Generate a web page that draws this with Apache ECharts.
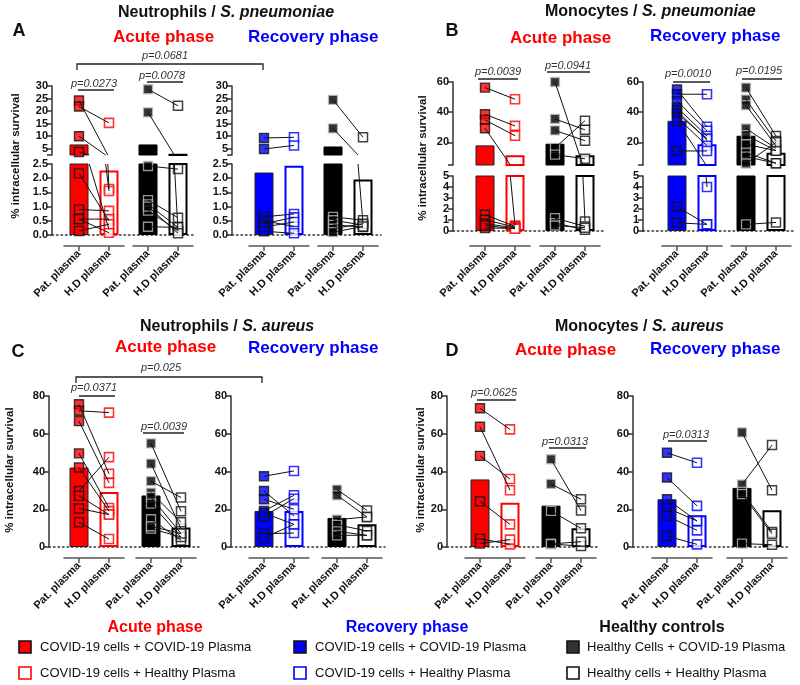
<!DOCTYPE html>
<html><head><meta charset="utf-8">
<script src="https://cdn.jsdelivr.net/npm/echarts@6/dist/echarts.min.js"></script>
<style>html,body{margin:0;padding:0;background:#fff}#c{width:800px;height:685px}</style>
</head><body><div id="c"></div><script>
// ---------- categories & tick labels ----------
const categories = ['Pat. plasma', 'H.D plasma'];
const aUpperTicks = [5, 10, 15, 20, 25, 30];
const aLowerTicks = [0, 0.5, 1.0, 1.5, 2.0, 2.5];
const bUpperTicks = [20, 40, 60];
const bLowerTicks = [0, 1, 2, 3, 4, 5];
const cdTicks = [0, 20, 40, 60, 80];

// ---------- A: Neutrophils / S. pneumoniae ----------
const aAcuteCovPat  = [24.2, 21.8, 10.0, 3.7, 2.17, 0.9, 0.56, 0.56, 0.14];
const aAcuteCovHD   = [1.62, 15.3, 1.55, 0.2, 0.5, 0.85, 0.56, 0.08, 0.38];
const aAcuteCovMean = [6.7, 2.27];
const aAcuteHcPat   = [28.7, 19.5, 2.43, 1.23, 1.08, 0.86, 0.29, 1.0];
const aAcuteHcHD    = [22.1, 0.15, 2.32, 0.61, 0.27, 0.15, 0.27, 0.06];
const aAcuteHcMean  = [6.7, 3.0];
const aRecCovPat    = [9.3, 4.9, 0.64, 0.5, 0.4, 0.28, 0.13];
const aRecCovHD     = [9.55, 6.3, 0.74, 0.3, 0.62, 0.46, 0.06];
const aRecCovMean   = [2.2, 2.44];
const aRecHcPat     = [24.5, 13.1, 0.64, 0.52, 0.36, 0.22, 0.1];
const aRecHcHD      = [9.55, 0.4, 0.52, 0.35, 0.28, 0.4, 0.3];
const aRecHcMean    = [5.9, 1.95];

// ---------- B: Monocytes / S. pneumoniae ----------
const bAcuteCovPat  = [56.3, 38.6, 34.9, 29.4, 1.48, 1.02, 0.66, 0.27, 0.5];
const bAcuteCovHD   = [48.6, 30.9, 24.4, 0.5, 0.42, 0.35, 0.3, 0.25, 0.2];
const bAcuteCovMean = [18.0, 11.5];
const bAcuteHcPat   = [60, 35.5, 27.9, 16.3, 11.9, 1.17, 0.72, 0.5];
const bAcuteHcHD    = [0.87, 28.3, 21.1, 34.4, 9.1, 0.42, 0.12, 0.3];
const bAcuteHcMean  = [19.1, 11.5];
const bRecCovPat    = [55, 51.9, 47.5, 43, 40.9, 39.1, 36.5, 34.3, 14.3, 2.2, 0.75];
const bRecCovHD     = [30.3, 51.9, 27.7, 24.2, 21.5, 22.5, 17.8, 4.0, 14.3, 0.6, 0.6];
const bRecCovMean   = [34.3, 18.7];
const bRecHcPat     = [56.3, 48.4, 44.6, 29.2, 24.8, 18.7, 13.2, 10.5, 6, 0.6];
const bRecHcHD      = [24.2, 20.9, 17.6, 16, 14.5, 14.5, 6.2, 6.2, 20, 0.78];
const bRecHcMean    = [24.4, 13.2];

// ---------- C: Neutrophils / S. aureus ----------
const cAcuteCovPat  = [75.6, 72.2, 66.7, 49.6, 42.1, 29.7, 27.1, 20.4, 13.1];
const cAcuteCovHD   = [38.8, 71.2, 34.0, 20.7, 19.0, 47.6, 17.2, 17.2, 4.2];
const cAcuteCovMean = [42.1, 29.2];
const cAcuteHcPat   = [54.9, 44.2, 34.9, 28.8, 26.5, 23, 14.7, 9.7, 11];
const cAcuteHcHD    = [18.9, 9.7, 26.2, 13.1, 7.1, 5.3, 3.5, 5.3, 7.1];
const cAcuteHcMean  = [27.3, 10.3];
const cRecCovPat    = [37.5, 29.7, 25.3, 19.1, 16.3, 18.0, 7.1, 4.9];
const cRecCovHD     = [40.3, 16.4, 20.0, 27.4, 25.6, 12.0, 7.4, 12.0];
const cRecCovMean   = [19.1, 19.1];
const cRecHcPat     = [30.4, 27.4, 14.5, 11.8, 8.3, 6.2];
const cRecHcHD      = [19.4, 15.9, 15.9, 8.5, 6.2, 6.2];
const cRecHcMean    = [15.4, 12.0];

// ---------- D: Monocytes / S. aureus ----------
const dAcuteCovPat  = [73.5, 63.7, 48.3, 24.2, 4.4, 1.8];
const dAcuteCovHD   = [62.3, 30.1, 36.0, 12.0, 1.4, 3.9];
const dAcuteCovMean = [35.8, 23.5];
const dAcuteHcPat   = [46.5, 33.4, 19.1, 1.6, 1.6];
const dAcuteHcHD    = [19.3, 25.3, 9.9, 0.5, 2.8];
const dAcuteHcMean  = [21.9, 9.9];
const dRecCovPat    = [49.9, 36.8, 25.3, 20.7, 16.5, 5.8];
const dRecCovHD     = [44.6, 21.8, 13.8, 13.8, 8.8, 1.4];
const dRecCovMean   = [25.3, 16.8];
const dRecHcPat     = [60.7, 33.1, 29.2, 28.0, 1.8];
const dRecHcHD      = [30.1, 54.0, 8.0, 7.0, 1.2];
const dRecHcMean    = [31.3, 19.5];

// ---------- styles ----------
const FONT = '"Liberation Sans", Arial, Helvetica, sans-serif';
const RED = '#ff0000', BLUE = '#0000ff';
const STY = {
  red:   { patBar:{color:RED, borderColor:'#222', borderWidth:1}, hdBar:{color:'#fff', borderColor:RED, borderWidth:2},
           patPt:{color:RED, borderColor:'#111', borderWidth:1.4}, hdPt:{color:'#fff', borderColor:RED, borderWidth:1.6} },
  blue:  { patBar:{color:BLUE, borderColor:'#222', borderWidth:1}, hdBar:{color:'#fff', borderColor:BLUE, borderWidth:2},
           patPt:{color:BLUE, borderColor:'#111', borderWidth:1.4}, hdPt:{color:'#fff', borderColor:BLUE, borderWidth:1.6} },
  black: { patBar:{color:'#000', borderColor:'#000', borderWidth:1}, hdBar:{color:'#fff', borderColor:'#000', borderWidth:2},
           patPt:{color:'#000', borderColor:'#bbb', borderWidth:1.3}, hdPt:{color:'#fff', borderColor:'#111', borderWidth:1.5} }
};

// ---------- layout ----------
const segA = [
  {min:2.5, max:30, top:86, bottom:155, ticks:[2.5].concat(aUpperTicks), labels:aUpperTicks, dec:0},
  {min:0, max:2.5, top:164, bottom:235, ticks:aLowerTicks, labels:aLowerTicks, dec:1, last:true}
];
const segB = [
  {min:5, max:60, top:82, bottom:165, ticks:[5].concat(bUpperTicks), labels:bUpperTicks, dec:0},
  {min:0, max:5, top:176, bottom:231, ticks:bLowerTicks, labels:bLowerTicks, dec:0, last:true}
];
const segC = [
  {min:0, max:80, top:396, bottom:547, ticks:cdTicks, labels:cdTicks, dec:0, last:true}
];

const panels = [
  {yx:52, segs:segA, xLineY:246, groups:[
    {l:64, r:124, pat:aAcuteCovPat, hd:aAcuteCovHD, mean:aAcuteCovMean, sty:'red'},
    {l:133, r:193, pat:aAcuteHcPat, hd:aAcuteHcHD, mean:aAcuteHcMean, sty:'black'}]},
  {yx:232, segs:segA, xLineY:246, groups:[
    {l:249, r:309, pat:aRecCovPat, hd:aRecCovHD, mean:aRecCovMean, sty:'blue'},
    {l:318, r:378, pat:aRecHcPat, hd:aRecHcHD, mean:aRecHcMean, sty:'black'}]},
  {yx:453, segs:segB, xLineY:246, groups:[
    {l:470, r:530, pat:bAcuteCovPat, hd:bAcuteCovHD, mean:bAcuteCovMean, sty:'red'},
    {l:540, r:600, pat:bAcuteHcPat, hd:bAcuteHcHD, mean:bAcuteHcMean, sty:'black'}]},
  {yx:643, segs:segB, xLineY:246, groups:[
    {l:662, r:722, pat:bRecCovPat, hd:bRecCovHD, mean:bRecCovMean, sty:'blue'},
    {l:731, r:791, pat:bRecHcPat, hd:bRecHcHD, mean:bRecHcMean, sty:'black'}]},
  {yx:49, segs:segC, xLineY:558, groups:[
    {l:64, r:124, pat:cAcuteCovPat, hd:cAcuteCovHD, mean:cAcuteCovMean, sty:'red'},
    {l:136, r:196, pat:cAcuteHcPat, hd:cAcuteHcHD, mean:cAcuteHcMean, sty:'black'}]},
  {yx:231, segs:segC, xLineY:558, groups:[
    {l:249, r:309, pat:cRecCovPat, hd:cRecCovHD, mean:cRecCovMean, sty:'blue'},
    {l:322, r:382, pat:cRecHcPat, hd:cRecHcHD, mean:cRecHcMean, sty:'black'}]},
  {yx:447, segs:segC, xLineY:558, groups:[
    {l:465, r:525, pat:dAcuteCovPat, hd:dAcuteCovHD, mean:dAcuteCovMean, sty:'red'},
    {l:536, r:596, pat:dAcuteHcPat, hd:dAcuteHcHD, mean:dAcuteHcMean, sty:'black'}]},
  {yx:633, segs:segC, xLineY:558, groups:[
    {l:652, r:712, pat:dRecCovPat, hd:dRecCovHD, mean:dRecCovMean, sty:'blue'},
    {l:727, r:787, pat:dRecHcPat, hd:dRecHcHD, mean:dRecHcMean, sty:'black'}]}
];

const grids = [], xAxes = [], yAxes = [], series = [];
function addGrid(l, t, w, h) {
  grids.push({left:l, top:t, width:w, height:h, containLabel:false, outerBoundsMode:'none'});
  return grids.length - 1;
}
function clipSeg(x1, y1, x2, y2, top, bot) {
  let t0 = 0, t1 = 1; const dy = y2 - y1;
  if (Math.abs(dy) < 1e-9) { if (y1 < top - 0.01 || y1 > bot + 0.01) return null; }
  else {
    let ta = (top - y1) / dy, tb = (bot - y1) / dy;
    if (ta > tb) { const tmp = ta; ta = tb; tb = tmp; }
    t0 = Math.max(t0, ta); t1 = Math.min(t1, tb);
    if (t0 > t1) return null;
  }
  return [x1 + (x2 - x1) * t0, y1 + dy * t0, x1 + (x2 - x1) * t1, y1 + dy * t1];
}

panels.forEach(p => {
  p.segs.forEach(seg => {
    const h = seg.bottom - seg.top;
    // frame grid: y axis + dotted zero line
    const fg = addGrid(p.yx, seg.top, p.groups[1].r + 3 - p.yx, h);
    xAxes.push({type:'value', gridIndex:fg, min:0, max:1, axisLabel:{show:false}, axisTick:{show:false}, splitLine:{show:false},
      axisLine:{show:!!seg.last, onZero:false, lineStyle:{color:'#333', width:1.5, type:[1.5, 3]}}});
    yAxes.push({type:'value', gridIndex:fg, min:seg.min, max:seg.max, splitLine:{show:false},
      axisLine:{show:true, onZero:false, lineStyle:{color:'#333', width:1.5}},
      axisTick:{show:true, length:5, lineStyle:{color:'#333', width:1.5}, customValues:seg.ticks},
      axisLabel:{show:true, customValues:seg.labels, formatter:v => Number(v).toFixed(seg.dec),
        fontSize:11, fontWeight:'bold', color:'#111', fontFamily:FONT, margin:4}});
    p.groups.forEach(g => {
      const gi = addGrid(g.l, seg.top, g.r - g.l, h);
      const xi = xAxes.length, yi = yAxes.length;
      xAxes.push({type:'category', gridIndex:gi, data:categories, show:!!seg.last, offset:p.xLineY - seg.bottom,
        axisLine:{show:true, onZero:false, lineStyle:{color:'#555', width:1.5}},
        axisTick:{show:true, alignWithLabel:true, length:5, lineStyle:{color:'#555', width:1.5}},
        axisLabel:{rotate:45, interval:0, fontSize:11, fontWeight:'bold', color:'#111', fontFamily:FONT, margin:6},
        splitLine:{show:false}});
      yAxes.push({type:'value', gridIndex:gi, min:seg.min, max:seg.max, show:false});
      const st = STY[g.sty];
      const inSeg = v => seg.last ? v <= seg.max + 0.001 : v >= seg.min;
      series.push({type:'bar', xAxisIndex:xi, yAxisIndex:yi, barWidth:19, z:2, silent:true, clip:true,
        data:[{value:g.mean[0], itemStyle:st.patBar}, {value:g.mean[1], itemStyle:st.hdBar}]});
      series.push({type:'scatter', xAxisIndex:xi, yAxisIndex:yi, symbol:'rect', symbolSize:9, z:4, silent:true, clip:false,
        data:g.pat.filter(inSeg).map(v => [0, v]), itemStyle:st.patPt});
      series.push({type:'scatter', xAxisIndex:xi, yAxisIndex:yi, symbol:'rect', symbolSize:9, z:4, silent:true, clip:false,
        data:g.hd.filter(inSeg).map(v => [1, v]), itemStyle:st.hdPt});
      series.push({type:'custom', xAxisIndex:xi, yAxisIndex:yi, z:5, silent:true, clip:false,
        dimensions:['x', 'pat', 'hd'], encode:{x:0, y:[1, 2]},
        data:g.pat.map((v, i) => [0, v, g.hd[i]]),
        renderItem:(params, api) => {
          const a = api.coord([0, api.value(1)]), b = api.coord([1, api.value(2)]);
          const cs = params.coordSys;
          const c = clipSeg(a[0], a[1], b[0], b[1], cs.y, cs.y + cs.height);
          if (!c) return null;
          return {type:'line', shape:{x1:c[0], y1:c[1], x2:c[2], y2:c[3]}, style:{stroke:'#111', lineWidth:1}};
        }});
    });
  });
});

// ---------- annotations ----------
const gfx = [];
function txt(x, y, text, font, fill, align, extra) {
  gfx.push(Object.assign({type:'text', x:x, y:y, silent:true, style:{text:text, font:font, fill:fill || '#111',
    align:align || 'center', verticalAlign:'middle'}}, extra || {}));
}
function line(x1, y1, x2, y2) {
  gfx.push({type:'line', silent:true, shape:{x1, y1, x2, y2}, style:{stroke:'#222', lineWidth:1.3}});
}
function bracket(x1, x2, y, d) {
  gfx.push({type:'polyline', silent:true, shape:{points:[[x1, y + d], [x1, y], [x2, y], [x2, y + d]]}, style:{stroke:'#222', lineWidth:1.3, fill:null}});
}
const PF = 'italic 11px ' + FONT;
function pval(text, cx, ty, x1, x2, ly) { txt(cx, ty, text, PF, '#333'); line(x1, ly, x2, ly); }

function title(x, y, a, b) {
  gfx.push({type:'text', x:x, y:y, silent:true, style:{text:'{n|' + a + '}{i|' + b + '}', align:'left', verticalAlign:'middle',
    rich:{n:{font:'bold 16px ' + FONT, fill:'#111'}, i:{font:'italic bold 16px ' + FONT, fill:'#111'}}}});
}
title(118, 13, 'Neutrophils / ', 'S. pneumoniae');
title(545, 12, 'Monocytes / ', 'S. pneumoniae');
title(140, 327, 'Neutrophils / ', 'S. aureus');
title(555, 327, 'Monocytes / ', 'S. aureus');

const LF = 'bold 18px ' + FONT;
txt(19, 31, 'A', LF); txt(452, 31, 'B', LF); txt(18, 352, 'C', LF); txt(452, 351, 'D', LF);

const HF = 'bold 17px ' + FONT;
txt(113, 37, 'Acute phase', HF, RED, 'left'); txt(248, 37, 'Recovery phase', HF, BLUE, 'left');
txt(510, 38, 'Acute phase', HF, RED, 'left'); txt(650, 36, 'Recovery phase', HF, BLUE, 'left');
txt(115, 347, 'Acute phase', HF, RED, 'left'); txt(248, 348, 'Recovery phase', HF, BLUE, 'left');
txt(515, 350, 'Acute phase', HF, RED, 'left'); txt(650, 349, 'Recovery phase', HF, BLUE, 'left');

const YF = 'bold 11.5px ' + FONT;
[[16, 156], [423, 158], [10, 470], [421, 470]].forEach(q =>
  txt(q[0], q[1], '% intracellular survival', YF, '#111', 'center', {rotation:Math.PI / 2}));

// p-values
bracket(77, 263, 64, 6); txt(165, 56, 'p=0.0681', PF, '#333');
pval('p=0.0273', 94, 84, 78, 114, 90);
pval('p=0.0078', 162, 76, 147, 183, 82);
pval('p=0.0039', 498, 72, 478, 518, 79);
pval('p=0.0941', 568, 66, 547, 590, 72);
pval('p=0.0010', 688, 74, 673, 710, 82);
pval('p=0.0195', 759, 71, 742, 782, 79);
bracket(76, 262, 377, 6); txt(161, 368, 'p=0.025', PF, '#333');
pval('p=0.0371', 94, 388, 79, 115, 396);
pval('p=0.0039', 164, 427, 143, 184, 433);
pval('p=0.0625', 494, 393, 477, 516, 400);
pval('p=0.0313', 565, 442, 549, 586, 448);
pval('p=0.0313', 686, 435, 668, 707, 441);

// legend
const LGF = '13px ' + FONT;
function legSq(x, y, fill, stroke) {
  gfx.push({type:'rect', silent:true, shape:{x:x, y:y, width:12, height:12}, style:{fill:fill, stroke:stroke, lineWidth:1.6}});
}
txt(155, 628, 'Acute phase', 'bold 16px ' + FONT, RED);
legSq(19, 641, RED, '#111'); txt(40, 647, 'COVID-19 cells + COVID-19 Plasma', LGF, '#111', 'left');
legSq(19, 667, '#fff', RED); txt(40, 673, 'COVID-19 cells + Healthy Plasma', LGF, '#111', 'left');
txt(407, 628, 'Recovery phase', 'bold 16px ' + FONT, BLUE);
legSq(294, 641, BLUE, '#111'); txt(315, 647, 'COVID-19 cells + COVID-19 Plasma', LGF, '#111', 'left');
legSq(294, 667, '#fff', BLUE); txt(315, 673, 'COVID-19 cells + Healthy Plasma', LGF, '#111', 'left');
txt(662, 628, 'Healthy controls', 'bold 16px ' + FONT, '#111');
legSq(567, 641, '#333', '#111'); txt(587, 647, 'Healthy Cells + COVID-19 Plasma', LGF, '#111', 'left');
legSq(567, 667, '#fff', '#111'); txt(587, 673, 'Healthy cells + Healthy Plasma', LGF, '#111', 'left');

const chart = echarts.init(document.getElementById('c'), null, {renderer:'canvas'});
chart.setOption({animation:false, backgroundColor:'#fff', textStyle:{fontFamily:FONT},
  grid:grids, xAxis:xAxes, yAxis:yAxes, series:series, graphic:{elements:gfx}});
</script></body></html>
